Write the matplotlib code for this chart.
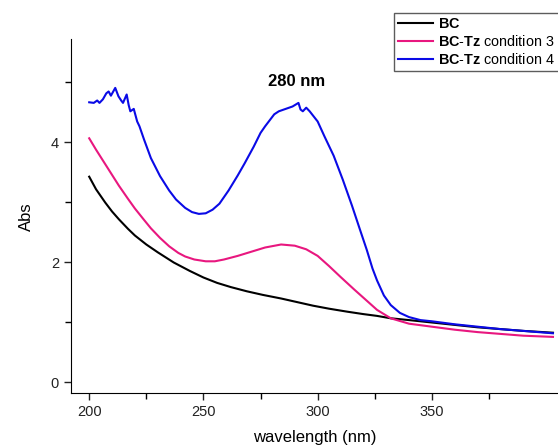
import matplotlib.pyplot as plt
from matplotlib.lines import Line2D
from matplotlib.ticker import FixedLocator

plt.rcParams["font.family"] = ["Liberation Sans", "DejaVu Sans"]
plt.rcParams["mathtext.fontset"] = "custom"
plt.rcParams["mathtext.rm"] = "Liberation Sans"
plt.rcParams["mathtext.bf"] = "Liberation Sans:bold"

# BC
bc_wl = [200, 203, 207, 210, 213, 217, 220, 225, 230, 237, 244, 250, 256, 262,
         269, 276, 284, 291, 298, 305, 313, 320, 326, 332, 340, 350, 360, 370,
         380, 390, 403]
bc_abs = [3.43, 3.22, 3.00, 2.85, 2.72, 2.56, 2.45, 2.30, 2.17, 2.00, 1.86, 1.75,
          1.66, 1.59, 1.52, 1.46, 1.40, 1.34, 1.28, 1.23, 1.18, 1.14, 1.11, 1.07,
          1.04, 1.00, 0.96, 0.92, 0.89, 0.86, 0.83]

# BC-Tz condition 3
c3_wl = [200, 203, 207, 210, 213, 217, 220, 224, 227, 231, 235, 239, 242, 246,
         251, 255, 259, 265, 271, 277, 284, 290, 295, 300, 305, 310, 316, 321,
         326, 332, 340, 350, 360, 370, 380, 390, 403]
c3_abs = [4.07, 3.88, 3.64, 3.46, 3.28, 3.06, 2.90, 2.71, 2.57, 2.41, 2.27, 2.16,
          2.10, 2.05, 2.02, 2.02, 2.05, 2.11, 2.18, 2.25, 2.30, 2.28, 2.22, 2.11,
          1.94, 1.76, 1.55, 1.38, 1.21, 1.07, 0.98, 0.93, 0.88, 0.84, 0.81, 0.78,
          0.76]

# BC-Tz condition 4
c4_wl = [200, 202, 203.5, 204.5, 206, 207.5, 208.5, 209.5, 211.4, 212.8, 214,
         214.8, 216.4, 217.3, 218, 219.5, 221, 222, 224, 227, 231, 235, 238, 242,
         245, 248, 251, 254, 257, 261, 265, 268, 272, 275, 277, 279, 281, 283,
         286, 289, 291.6, 292.5, 293.5, 295, 296.5, 300, 303, 307, 311, 315,
         318.5, 321.5, 324, 326, 329, 332, 336, 340, 345, 350, 360, 370, 380,
         390, 403]
c4_abs = [4.67, 4.66, 4.70, 4.66, 4.72, 4.82, 4.85, 4.78, 4.91, 4.77, 4.70, 4.66,
          4.80, 4.62, 4.52, 4.56, 4.35, 4.27, 4.05, 3.74, 3.44, 3.20, 3.05, 2.91,
          2.84, 2.81, 2.82, 2.88, 2.98, 3.20, 3.45, 3.65, 3.93, 4.16, 4.27, 4.37,
          4.47, 4.52, 4.56, 4.60, 4.66, 4.55, 4.52, 4.58, 4.52, 4.35, 4.10, 3.78,
          3.38, 2.95, 2.55, 2.21, 1.90, 1.70, 1.45, 1.29, 1.16, 1.09, 1.04, 1.02,
          0.97, 0.93, 0.89, 0.86, 0.82]

labels = ["$\\mathbf{BC}$",
          "$\\mathbf{BC}$-$\\mathbf{Tz}$ condition 3",
          "$\\mathbf{BC}$-$\\mathbf{Tz}$ condition 4"]
colors = ["black", "#e8177f", "#0a0ae6"]

fig = plt.figure(figsize=(5.58, 4.48), dpi=100)
ax = fig.add_axes([0.1267, 0.1221, 0.8733, 0.7902])

ax.plot(bc_wl, bc_abs, color=colors[0], lw=1.5)
ax.plot(c3_wl, c3_abs, color=colors[1], lw=1.5)
ax.plot(c4_wl, c4_abs, color=colors[2], lw=1.5)

ax.set_xlim(191.9, 405.2)
ax.set_ylim(-0.18, 5.72)
ax.spines["top"].set_visible(False)
ax.spines["right"].set_visible(False)
ax.xaxis.set_major_locator(FixedLocator([200, 250, 300, 350]))
ax.xaxis.set_minor_locator(FixedLocator([225, 275, 325, 375]))
ax.yaxis.set_major_locator(FixedLocator([0, 2, 4]))
ax.yaxis.set_minor_locator(FixedLocator([1, 3, 5]))
ax.tick_params(which="major", direction="out", length=5, width=1,
               labelsize=10.5, colors="#222222")
ax.tick_params(which="minor", direction="out", length=4, width=1)

ax.set_xlabel("wavelength (nm)", fontsize=12, labelpad=8)
ax.set_ylabel("Abs", fontsize=12, labelpad=12)

ax.text(290.6, 5.01, "280 nm", fontsize=12, fontweight="bold",
        ha="center", va="center")

handles = [Line2D([], [], color=c, lw=1.5) for c in colors]
leg = fig.legend(handles, labels, loc="upper left",
                 bbox_to_anchor=(394 / 558, 1 - 13 / 448),
                 fontsize=10.4, frameon=True, fancybox=False,
                 handlelength=2.4, handletextpad=0.4, labelspacing=0.22,
                 borderpad=0.28, borderaxespad=0)
leg.get_frame().set_edgecolor("#333333")
leg.get_frame().set_linewidth(1.0)

fig.savefig("out.png", dpi=100)
plt.close()
